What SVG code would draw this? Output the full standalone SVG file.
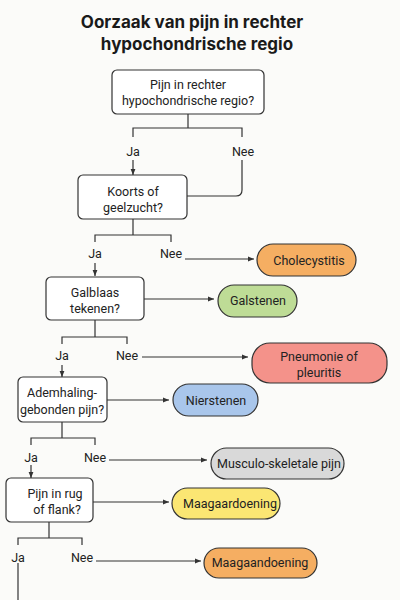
<svg xmlns="http://www.w3.org/2000/svg" width="400" height="600" viewBox="0 0 400 600">
<defs>
<marker id="ah" viewBox="0 0 10 10" refX="10" refY="5" markerWidth="6" markerHeight="6" orient="auto" markerUnits="userSpaceOnUse">
<path d="M0,1 L10,5 L0,9 z" fill="#333"/>
</marker>
<style>
.t{font-family:Roboto,"Noto Sans",sans-serif;font-size:12.5px;fill:#222;text-anchor:middle}
.title{font-family:Inter,"Noto Sans",sans-serif;font-size:17px;font-weight:700;fill:#1a1a1a;text-anchor:middle}
.box{fill:#fff;stroke:#333;stroke-width:1.2}
.pill{stroke:#333;stroke-width:1.2}
.ln{fill:none;stroke:#333;stroke-width:1.2}
.ar{fill:none;stroke:#333;stroke-width:1.2;marker-end:url(#ah)}
</style>
</defs>
<rect width="400" height="600" fill="#fbfbf9"/>
<g id="title">
<text class="title" x="192" y="28">Oorzaak van pijn in rechter</text>
<text class="title" x="197" y="50">hypochondrische regio</text>
</g>
<g id="connectors">
<path class="ln" d="M188,114 V128 M133,137 V128 H242 V137"/>
<path class="ar" d="M133,160 V175"/>
<path class="ln" d="M242,160 V190 Q242,196 236,196 H187"/>
<path class="ln" d="M133,219 V235 M95,242 V235 H171 V242"/>
<path class="ar" d="M95,263 V276"/>
<path class="ar" d="M185,259 H254"/>
<path class="ar" d="M144,299 H214"/>
<path class="ln" d="M95,320 V337 M62,344 V337 H127 V344"/>
<path class="ar" d="M62,365 V377"/>
<path class="ar" d="M142,357 H248"/>
<path class="ar" d="M107,400 H169"/>
<path class="ln" d="M62,422 V438 M31,445 V438 H95 V445"/>
<path class="ar" d="M31,465 V478"/>
<path class="ar" d="M109,460 H207"/>
<path class="ar" d="M93,502 H169"/>
<path class="ln" d="M49,522 V538 M18,545 V538 H82 V545"/>
<path class="ln" d="M18,563 V600"/>
<path class="ar" d="M96,561 H201"/>
</g>
<g id="labels">
<text class="t" x="133" y="156">Ja</text>
<text class="t" x="243" y="156">Nee</text>
<text class="t" x="95" y="258">Ja</text>
<text class="t" x="171" y="258">Nee</text>
<text class="t" x="62" y="360">Ja</text>
<text class="t" x="127" y="360">Nee</text>
<text class="t" x="31" y="462">Ja</text>
<text class="t" x="95" y="462">Nee</text>
<text class="t" x="18" y="562">Ja</text>
<text class="t" x="82" y="562">Nee</text>
</g>
<g id="q1">
<rect class="box" x="112" y="70" width="152" height="44" rx="5"/>
<text class="t" x="188" y="89">Pijn in rechter</text>
<text class="t" x="188" y="105">hypochondrische regio?</text>
</g>
<g id="q2">
<rect class="box" x="78" y="175" width="109" height="44" rx="5"/>
<text class="t" x="133" y="196">Koorts of</text>
<text class="t" x="133" y="212">geelzucht?</text>
</g>
<g id="q3">
<rect class="box" x="46" y="277" width="98" height="43" rx="5"/>
<text class="t" x="95" y="297">Galblaas</text>
<text class="t" x="95" y="313">tekenen?</text>
</g>
<g id="q4">
<rect class="box" x="18" y="377" width="89" height="45" rx="5"/>
<text class="t" x="62" y="397">Ademhaling-</text>
<text class="t" x="62" y="414">gebonden pijn?</text>
</g>
<g id="q5">
<rect class="box" x="6" y="478" width="87" height="44" rx="5"/>
<text class="t" x="55" y="498">Pijn in rug</text>
<text class="t" x="57" y="514">of flank?</text>
</g>
<g id="r1">
<rect class="pill" x="257" y="244" width="99" height="32" rx="16" fill="#f5ae62"/>
<text class="t" x="309" y="265">Cholecystitis</text>
</g>
<g id="r2">
<rect class="pill" x="218" y="285" width="79" height="32" rx="16" fill="#bedc96"/>
<text class="t" x="258" y="305">Galstenen</text>
</g>
<g id="r3">
<rect class="pill" x="252" y="343" width="135" height="40" rx="18" fill="#f4928a"/>
<text class="t" x="319" y="361">Pneumonie of</text>
<text class="t" x="319" y="377">pleuritis</text>
</g>
<g id="r4">
<rect class="pill" x="173" y="384" width="85" height="32" rx="16" fill="#a9c6eb"/>
<text class="t" x="216" y="405">Nierstenen</text>
</g>
<g id="r5">
<rect class="pill" x="211" y="448" width="133" height="31" rx="15.5" fill="#d9d9d9"/>
<text class="t" x="279" y="468">Musculo-skeletale pijn</text>
</g>
<g id="r6">
<rect class="pill" x="172" y="488" width="108" height="31" rx="15.5" fill="#fbe673"/>
<text class="t" x="230" y="508">Maagaardoening</text>
</g>
<g id="r7">
<rect class="pill" x="204" y="548" width="113" height="30" rx="15" fill="#f5ae62"/>
<text class="t" x="260" y="567">Maagaandoening</text>
</g>
</svg>
